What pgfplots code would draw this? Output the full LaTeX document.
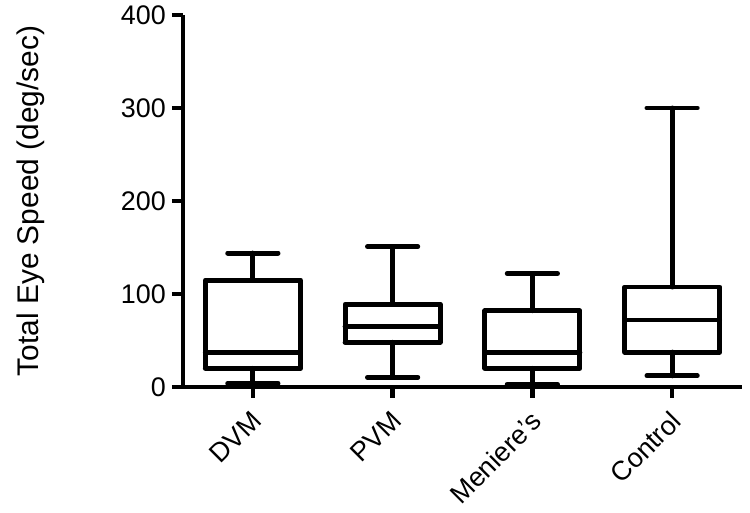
\documentclass[border=0pt]{standalone}
\usepackage{pgfplots}
\pgfplotsset{compat=1.18}
\usepackage{fontspec}
\setmainfont{Liberation Sans}

\begin{document}
\begin{tikzpicture}
  % fix the page to the reference's 750x513 proportions (1px = 0.02cm)
  \path[use as bounding box] (-3.66,-2.52) rectangle (11.34,7.74);
  \begin{axis}[
    at={(0,0)}, anchor=south west,
    scale only axis,
    width=11.18cm, height=7.44cm,
    axis lines*=left,
    axis line style={line width=2.6pt},
    xmin=0.5, xmax=4.5,
    ymin=0, ymax=400,
    ytick={0,100,200,300,400},
    xtick={1,2,3,4},
    xticklabels={DVM, PVM, Meniere's, Control},
    xticklabel style={rotate=45, anchor=north east, xshift=-0.08cm,
      font=\fontsize{15.3}{17}\selectfont},
    yticklabel style={font=\fontsize{15.3}{17}\selectfont},
    /pgf/number format/assume math mode=true,
    tick align=outside,
    major tick length=0.22cm,
    tick style={line width=2.6pt, black},
    ylabel={Total Eye Speed (deg/sec)},
    every axis y label/.style={at={(axis description cs:-0.272,0.5)}, rotate=90, anchor=center,
      font=\fontsize{17}{19}\selectfont},
    clip=false,
    unbounded coords=jump,
    bx/.style={black, line width=2.8pt, line join=round, line cap=round, mark=none},
  ]
    % DVM: whiskers 4 / 144, quartiles 20 / 115, median 37.5
    \addplot[bx] coordinates {(0.66,20) (1.34,20) (1.34,115) (0.66,115) (0.66,20) (nan,nan)
      (0.66,37.5) (1.34,37.5) (nan,nan) (1,115) (1,144) (nan,nan) (0.82,144) (1.18,144) (nan,nan)
      (1,20) (1,4) (nan,nan) (0.82,4) (1.18,4)};
    % PVM: whiskers 10.5 / 151, quartiles 48 / 89, median 65
    \addplot[bx] coordinates {(1.66,48) (2.34,48) (2.34,89) (1.66,89) (1.66,48) (nan,nan)
      (1.66,65) (2.34,65) (nan,nan) (2,89) (2,151) (nan,nan) (1.82,151) (2.18,151) (nan,nan)
      (2,48) (2,10.5) (nan,nan) (1.82,10.5) (2.18,10.5)};
    % Meniere's: whiskers 3 / 122, quartiles 20 / 82, median 37.5
    \addplot[bx] coordinates {(2.66,20) (3.34,20) (3.34,82) (2.66,82) (2.66,20) (nan,nan)
      (2.66,37.5) (3.34,37.5) (nan,nan) (3,82) (3,122) (nan,nan) (2.82,122) (3.18,122) (nan,nan)
      (3,20) (3,3) (nan,nan) (2.82,3) (3.18,3)};
    % Control: whiskers 12 / 300, quartiles 37.5 / 107.5, median 72
    \addplot[bx] coordinates {(3.66,37.5) (4.34,37.5) (4.34,107.5) (3.66,107.5) (3.66,37.5) (nan,nan)
      (3.66,72) (4.34,72) (nan,nan) (4,107.5) (4,300) (nan,nan) (3.82,300) (4.18,300) (nan,nan)
      (4,37.5) (4,12) (nan,nan) (3.82,12) (4.18,12)};
  \end{axis}
\end{tikzpicture}
\end{document}
